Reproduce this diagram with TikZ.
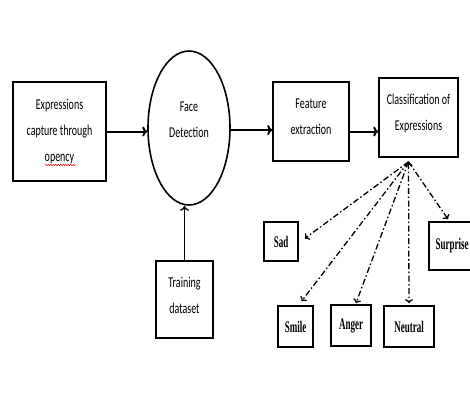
\documentclass[tikz,border=0pt]{standalone}
\usepackage{fontspec}
\usepackage{graphicx}
\newfontfamily\calfont{Carlito}
\newfontfamily\timesfont{Liberation Serif}
\usetikzlibrary{shapes.geometric,arrows.meta,decorations.pathmorphing}
\newcommand\vs[1]{\scalebox{1}[1.5]{#1}}
\newcommand\vt[1]{\scalebox{1}[1.8]{\bfseries #1}}
\begin{document}
\begin{tikzpicture}[x=1pt,y=-1pt,
  box/.style={draw, line width=1.6pt, inner sep=0pt, align=center, font=\calfont\fontsize{10}{26}\selectfont},
  txt/.style={inner sep=0pt, align=center, font=\calfont\fontsize{10}{26}\selectfont},
  lab/.style={draw, line width=1.6pt, inner sep=0pt, font=\timesfont\fontsize{9}{11}\selectfont},
  flow/.style={line width=2pt, -{To[length=5pt,width=10pt]}},
  thinflow/.style={line width=1.4pt, -{To[length=5pt,width=9pt]}},
  dd/.style={line width=1.3pt, dash pattern=on 6pt off 2.5pt on 1.5pt off 2.5pt, -{To[length=4pt,width=8pt]}}]
\useasboundingbox (0,0) rectangle (470,408);
\fill[white] (0,0) rectangle (470,408);
\node[box, minimum width=93pt, minimum height=99pt] (cap) at (59.5,131.5) {\vs{Expressions}\\\vs{capture through}\\\vs{opency}};
\node[box, ellipse, minimum width=82pt, minimum height=154pt] (face) at (189,128) {};
\node[txt] (facet) at ([yshift=8pt]face.center) {\vs{Face}\\\vs{Detection}};
\node[box, minimum width=76pt, minimum height=79pt] (feat) at (311,121.5) {};
\node[txt] (featt) at ([yshift=4.5pt]feat.center) {\vs{Feature}\\\vs{extraction}};
\node[box, minimum width=79pt, minimum height=79pt] (cls) at (418.5,117.5) {};
\node[txt] (clst) at ([yshift=4pt]cls.center) {\vs{Classification of}\\\vs{Expressions}};
\node[box, minimum width=57pt, minimum height=77pt] (train) at (184.5,299.5) {};
\node[txt] (traint) at ([yshift=4pt]train.center) {\vs{Training}\\\vs{dataset}};
\node[lab, minimum width=34pt, minimum height=39pt] (sad) at (281,241.5) {\vt{Sad}};
\node[lab, minimum width=46pt, minimum height=48pt] (sur) at (452,246) {\vt{Surprise}};
\node[lab, minimum width=35pt, minimum height=41pt] (smile) at (295.5,326.5) {\vt{Smile}};
\node[lab, minimum width=40pt, minimum height=41pt] (anger) at (351,325.5) {\vt{Anger}};
\node[lab, minimum width=50pt, minimum height=41pt] (neu) at (409,326.5) {\vt{Neutral}};
\draw[red, line width=0.5pt, decorate, decoration={snake, amplitude=0.7pt, segment length=2.5pt}] (45,165) -- (76,165);
\draw[flow] (cap.east) -- (cap.east -| face.west);
\draw[flow] ([yshift=-2pt]face.east) -- ([yshift=-2pt]face.east -| feat.west);
\draw[flow] ([yshift=-10pt]feat.east) -- ([yshift=-10pt]feat.east -| cls.west);
\draw[thinflow] (train.north) -- (train.north |- face.south);
\coordinate (o) at ([xshift=-10pt,yshift=-4pt]cls.south);
\draw[dd] (o) -- ([xshift=6pt,yshift=3pt]sad.east);
\draw[dd] (o) -- ([xshift=6pt,yshift=4pt]smile.north);
\draw[dd] (o) -- ([xshift=5pt,yshift=1pt]anger.north);
\draw[dd, {To[length=4pt,width=8pt]}-{To[length=4pt,width=8pt]}] (o) -- ([yshift=2pt]neu.north);
\draw[dd] (o) -- ([xshift=-4pt,yshift=2pt]sur.north);
\end{tikzpicture}
\end{document}
